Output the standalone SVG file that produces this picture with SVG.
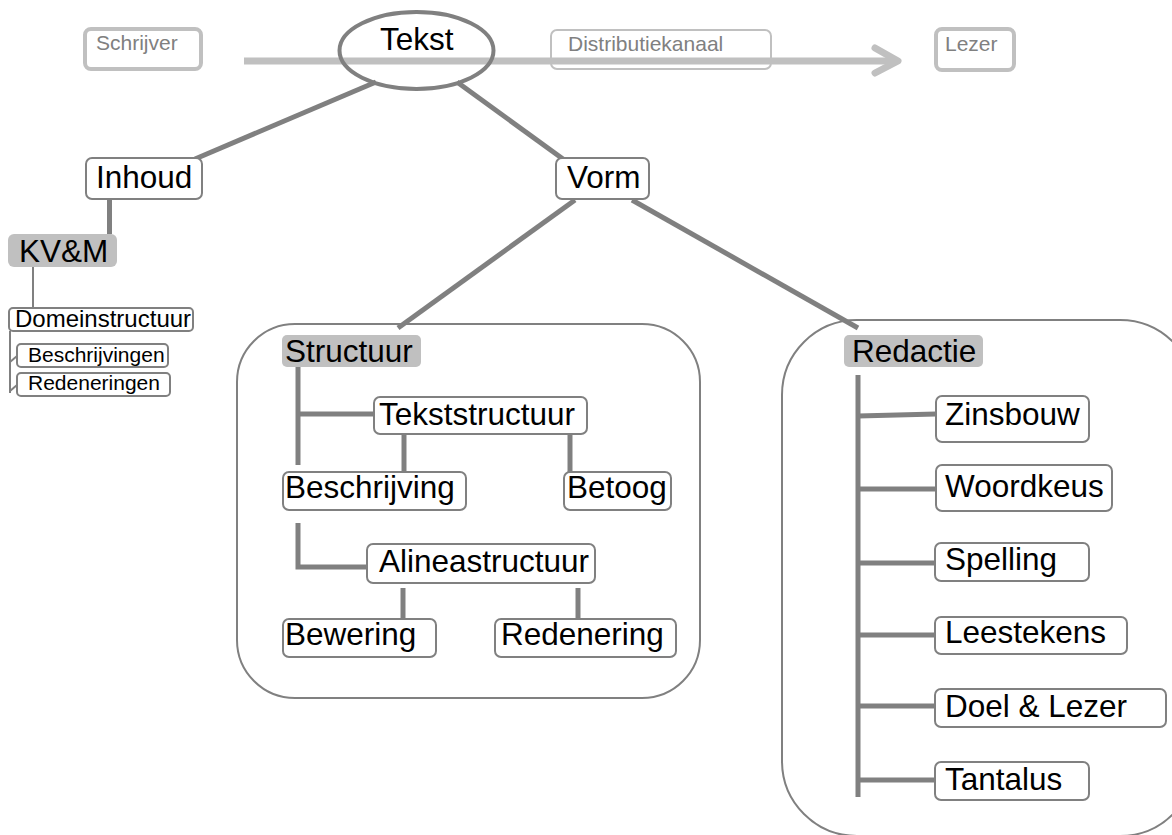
<svg xmlns="http://www.w3.org/2000/svg" width="1172" height="835" viewBox="0 0 1172 835">
<style>
text{font-family:"Liberation Sans",Arial,sans-serif;fill:#000}
.big{font-size:31.5px}
.mid{font-size:24px}
.sm{font-size:21px}
.top{font-size:21px;fill:#808080}
.box{fill:#fff;stroke:#808080;stroke-width:2}
.hl{fill:#c0c0c0;stroke:none}
.tbox{fill:#fff;stroke:#c0c0c0}
.con{stroke:#808080;stroke-width:5;fill:none}
.thin{stroke:#808080;stroke-width:2;fill:none}
.cont{fill:#fff;stroke:#808080;stroke-width:2}
</style>
<rect width="1172" height="835" fill="#fff"/>
<g id="containers">
<rect id="structuur-group" class="cont" x="237" y="324" width="463" height="374" rx="58"/>
<rect id="redactie-group" class="cont" x="782" y="320" width="413" height="516" rx="75"/>
</g>
<g id="schrijver"><rect class="tbox" stroke-width="4" x="85" y="29" width="116" height="40" rx="6"/><text class="top" x="96" y="50">Schrijver</text></g>
<g id="distributiekanaal"><rect class="tbox" stroke-width="2" x="551" y="30" width="220" height="39" rx="6"/><text class="top" x="568" y="51">Distributiekanaal</text></g>
<g id="lezer"><rect class="tbox" stroke-width="4" x="936" y="29" width="78" height="41" rx="6"/><text class="top" x="945" y="51">Lezer</text></g>
<g id="connectors">
<line x1="244" y1="61" x2="896" y2="61" stroke="#c0c0c0" stroke-width="7"/>
<polyline points="875,48 898,61 875,73" fill="none" stroke="#c0c0c0" stroke-width="7" stroke-linecap="round" stroke-linejoin="round"/>
<line class="con" x1="376" y1="82" x2="195" y2="159"/>
<line class="con" x1="457" y1="82" x2="563" y2="159"/>
<line class="con" x1="109.5" y1="199" x2="109.5" y2="234"/>
<line class="thin" x1="33" y1="267" x2="33" y2="308"/>
<polyline class="thin" points="10,331 10,393"/>
<polyline class="thin" points="10,362 17,356"/>
<polyline class="thin" points="10,391 17,385"/>
<line class="con" x1="575" y1="200" x2="398" y2="328"/>
<line class="con" x1="632" y1="200" x2="858" y2="328"/>
<line class="con" x1="298" y1="367" x2="298" y2="465"/>
<line class="con" x1="298" y1="414" x2="374" y2="414"/>
<line class="con" x1="404" y1="434" x2="404" y2="473"/>
<line class="con" x1="570" y1="434" x2="570" y2="473"/>
<polyline class="con" points="298,523 298,567 367,567"/>
<line class="con" x1="403" y1="588" x2="403" y2="618"/>
<line class="con" x1="578" y1="588" x2="578" y2="618"/>
<line class="con" x1="858" y1="375" x2="858" y2="797"/>
<line class="con" x1="858" y1="416" x2="936" y2="414"/>
<line class="con" x1="858" y1="489" x2="936" y2="489"/>
<line class="con" x1="858" y1="563" x2="936" y2="563"/>
<line class="con" x1="858" y1="635" x2="936" y2="635"/>
<line class="con" x1="858" y1="706" x2="936" y2="706"/>
<line class="con" x1="858" y1="780" x2="936" y2="780"/>
</g>
<g id="tekst"><ellipse cx="416.5" cy="50.5" rx="77" ry="38.5" fill="none" stroke="#808080" stroke-width="4"/><text class="big" x="380" y="50">Tekst</text></g>
<g id="inhoud"><rect class="box" x="86" y="158" width="116" height="41" rx="6"/><text class="big" x="96" y="188">Inhoud</text></g>
<g id="vorm"><rect class="box" x="556" y="158" width="93" height="41" rx="6"/><text class="big" x="567" y="188">Vorm</text></g>
<g id="kvm"><rect class="hl" x="8" y="234" width="109" height="33" rx="6"/><text class="big" x="19" y="262">KV&amp;M</text></g>
<g id="domeinstructuur"><rect class="box" x="9" y="308" width="184" height="23" rx="4"/><text class="mid" x="15" y="327">Domeinstructuur</text></g>
<g id="beschrijvingen"><rect class="box" x="17" y="344" width="151" height="23" rx="4"/><text class="sm" x="28" y="362">Beschrijvingen</text></g>
<g id="redeneringen"><rect class="box" x="17" y="373" width="153" height="23" rx="4"/><text class="sm" x="28" y="390">Redeneringen</text></g>
<g id="structuur"><rect class="hl" x="282" y="335" width="139" height="32" rx="5"/><text class="big" x="285" y="362">Structuur</text></g>
<g id="tekststructuur"><rect class="box" x="374" y="397" width="213" height="37" rx="6"/><text class="big" x="379" y="425">Tekststructuur</text></g>
<g id="beschrijving"><rect class="box" x="283" y="472" width="183" height="38" rx="6"/><text class="big" x="285" y="498">Beschrijving</text></g>
<g id="betoog"><rect class="box" x="564" y="472" width="107" height="38" rx="6"/><text class="big" x="567" y="498">Betoog</text></g>
<g id="alineastructuur"><rect class="box" x="367" y="544" width="228" height="39" rx="6"/><text class="big" x="379" y="572">Alineastructuur</text></g>
<g id="bewering"><rect class="box" x="283" y="619" width="153" height="38" rx="6"/><text class="big" x="285" y="645">Bewering</text></g>
<g id="redenering"><rect class="box" x="495" y="619" width="181" height="38" rx="6"/><text class="big" x="501" y="645">Redenering</text></g>
<g id="redactie"><rect class="hl" x="844" y="335" width="139" height="32" rx="5"/><text class="big" x="852" y="362">Redactie</text></g>
<g id="zinsbouw"><rect class="box" x="936" y="396" width="153" height="46" rx="6"/><text class="big" x="945" y="425">Zinsbouw</text></g>
<g id="woordkeus"><rect class="box" x="936" y="465" width="176" height="46" rx="6"/><text class="big" x="945" y="497">Woordkeus</text></g>
<g id="spelling"><rect class="box" x="935" y="543" width="154" height="38" rx="6"/><text class="big" x="945" y="570">Spelling</text></g>
<g id="leestekens"><rect class="box" x="935" y="617" width="192" height="37" rx="6"/><text class="big" x="945" y="643">Leestekens</text></g>
<g id="doel-lezer"><rect class="box" x="935" y="689" width="231" height="38" rx="6"/><text class="big" x="945" y="717">Doel &amp; Lezer</text></g>
<g id="tantalus"><rect class="box" x="935" y="762" width="154" height="38" rx="6"/><text class="big" x="945" y="790">Tantalus</text></g>
</svg>
